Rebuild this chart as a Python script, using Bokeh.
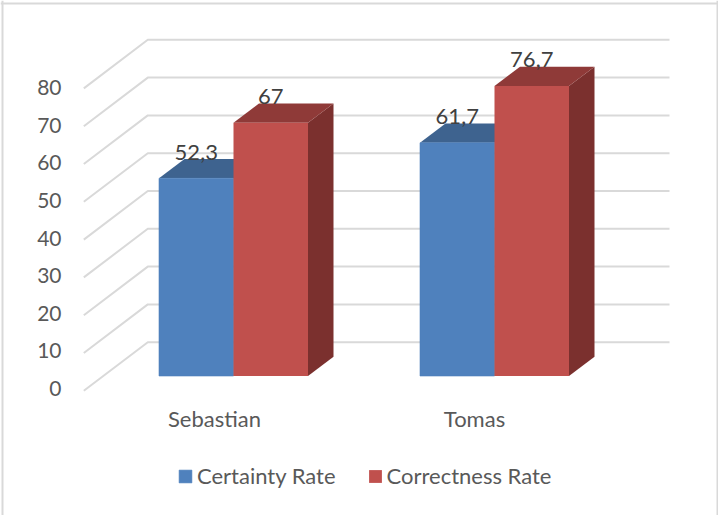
from bokeh.plotting import figure
from bokeh.embed import file_html
from bokeh.resources import INLINE
from bokeh.models import (Range1d, LinearAxis, FixedTicker, Legend, LegendItem,
                          Span, ColumnDataSource)
from bokeh.core.properties import value

categories = ["Sebastian", "Tomas"]
certainty = [52.3, 61.7]
correctness = [67, 76.7]
certainty_labels = ["52,3", "61,7"]
correctness_labels = ["67", "76,7"]
y_ticks = [0, 10, 20, 30, 40, 50, 60, 70, 80]

W, H = 718, 515
FONT = "Lato"
GRID = "#D9D9D9"
BLUE, BLUE_TOP = "#4F81BD", "#3E638F"
RED, RED_TOP, RED_SIDE = "#C0504D", "#8F3A38", "#7B302E"

# pixel mapping of the front plane of the bars
PX0, PX_GROUP = 233.0, 261.0
PY0, PY_UNIT = 375.5, 3.78
BAR_W = 74.5 / PX_GROUP
DX = 25.5 / PX_GROUP
DY = 19.3 / PY_UNIT
LABEL_LIFT = 7.0 / PY_UNIT
WALL_LEFT = (147.3 - PX0) / PX_GROUP
WALL_RIGHT = (669 - PX0) / PX_GROUP
EDGE_LEFT = (83.3 - PX0) / PX_GROUP
WALL_LIFT = (PY0 - 341.7) / PY_UNIT
EDGE_DROP = (390.3 - PY0) / PY_UNIT

p = figure(width=W, height=H, output_backend="svg", toolbar_location=None,
           x_range=Range1d(-PX0 / PX_GROUP, (W - PX0) / PX_GROUP),
           y_range=Range1d((PY0 - H) / PY_UNIT, PY0 / PY_UNIT),
           min_border=0, x_axis_type=None, y_axis_type=None)
p.grid.visible = False
p.outline_line_color = None
p.background_fill_color = "white"

# chart border: left, right and top only (the bottom edge is cut off)
for loc, dim in [(2, "height"), (717, "height"), (H - 3, "width")]:
    p.add_layout(Span(location=loc, location_units="screen", dimension=dim,
                      line_color=GRID, line_width=2))

# y axis on its own range, to the left of the floor
YL0, YL_UNIT = 388.0, 3.7625
p.extra_y_ranges["labels"] = Range1d((YL0 - H) / YL_UNIT, YL0 / YL_UNIT)
yax = LinearAxis(y_range_name="labels", ticker=FixedTicker(ticks=y_ticks),
                 fixed_location=(77 - PX0) / PX_GROUP,
                 axis_line_color=None, major_tick_line_color=None, minor_tick_line_color=None,
                 major_label_standoff=10, major_label_text_font=FONT,
                 major_label_text_font_size="21px", major_label_text_color="#595959")
p.add_layout(yax, "left")

# category axis on its own range
p.extra_x_ranges["cats"] = Range1d(-214 / 260, (W - 214) / 260)
xax = LinearAxis(x_range_name="cats", ticker=FixedTicker(ticks=[0, 1]),
                 major_label_overrides={i: c for i, c in enumerate(categories)},
                 fixed_location=(PY0 - 398) / PY_UNIT,
                 axis_line_color=None, major_tick_line_color=None, minor_tick_line_color=None,
                 major_label_standoff=0, major_label_text_font=FONT,
                 major_label_text_font_size="22px", major_label_text_color="#595959")
p.add_layout(xax, "below")

# gridlines: back wall, then diagonal along the side wall
xs = [[EDGE_LEFT, WALL_LEFT, WALL_RIGHT] for _ in y_ticks]
ys = [[t - EDGE_DROP, t + WALL_LIFT, t + WALL_LIFT] for t in y_ticks]
p.multi_line(xs, ys, line_color=GRID, line_width=2)


def parallel(x, v, w):
    """Top and side faces of a bar whose front face spans x..x+w, height v."""
    top_x = [x, x + w, x + w + DX, x + DX]
    top_y = [v, v, v + DY, v + DY]
    side_x = [x + w, x + w + DX, x + w + DX, x + w]
    side_y = [0, DY, v + DY, v]
    return top_x, top_y, side_x, side_y


def bars(vals, offset, front, top, side, edge):
    lefts = [i + offset for i in range(len(vals))]
    faces = [parallel(x, v, BAR_W) for x, v in zip(lefts, vals)]
    p.patches([f[2] for f in faces], [f[3] for f in faces], fill_color=side, line_color=None)
    p.patches([f[0] for f in faces], [f[1] for f in faces], fill_color=top, line_color=None)
    src = ColumnDataSource(dict(x=[x + BAR_W / 2 for x in lefts], top=vals))
    return p.vbar(x="x", top="top", bottom=0, width=BAR_W, source=src,
                  fill_color=front, line_color=edge, line_width=0.6)


r1 = bars(certainty, -BAR_W, BLUE, BLUE_TOP, "#2F4B6E", BLUE)
r2 = bars(correctness, 0, RED, RED_TOP, RED_SIDE, None)


def labels(vals, texts, offset):
    p.text([i + offset + BAR_W / 2 for i in range(len(vals))], [v + DY + LABEL_LIFT for v in vals], text=texts,
           text_font=value(FONT), text_font_size="22px", text_color="#404040",
           text_align="center", text_baseline="alphabetic")


labels(certainty, certainty_labels, -BAR_W)
labels(correctness, correctness_labels, 0)

legend = Legend(items=[LegendItem(label="Certainty Rate", renderers=[r1]),
                       LegendItem(label="Correctness Rate", renderers=[r2])],
                orientation="horizontal", location=(177, H - 489),
                padding=0, margin=0, spacing=31, border_line_color=None,
                background_fill_alpha=0, glyph_width=16, glyph_height=16,
                label_standoff=4, label_text_font=FONT, label_text_font_size="22px",
                label_text_color="#595959")
p.add_layout(legend, "center")

open("out.html", "w").write(file_html(p, INLINE))
